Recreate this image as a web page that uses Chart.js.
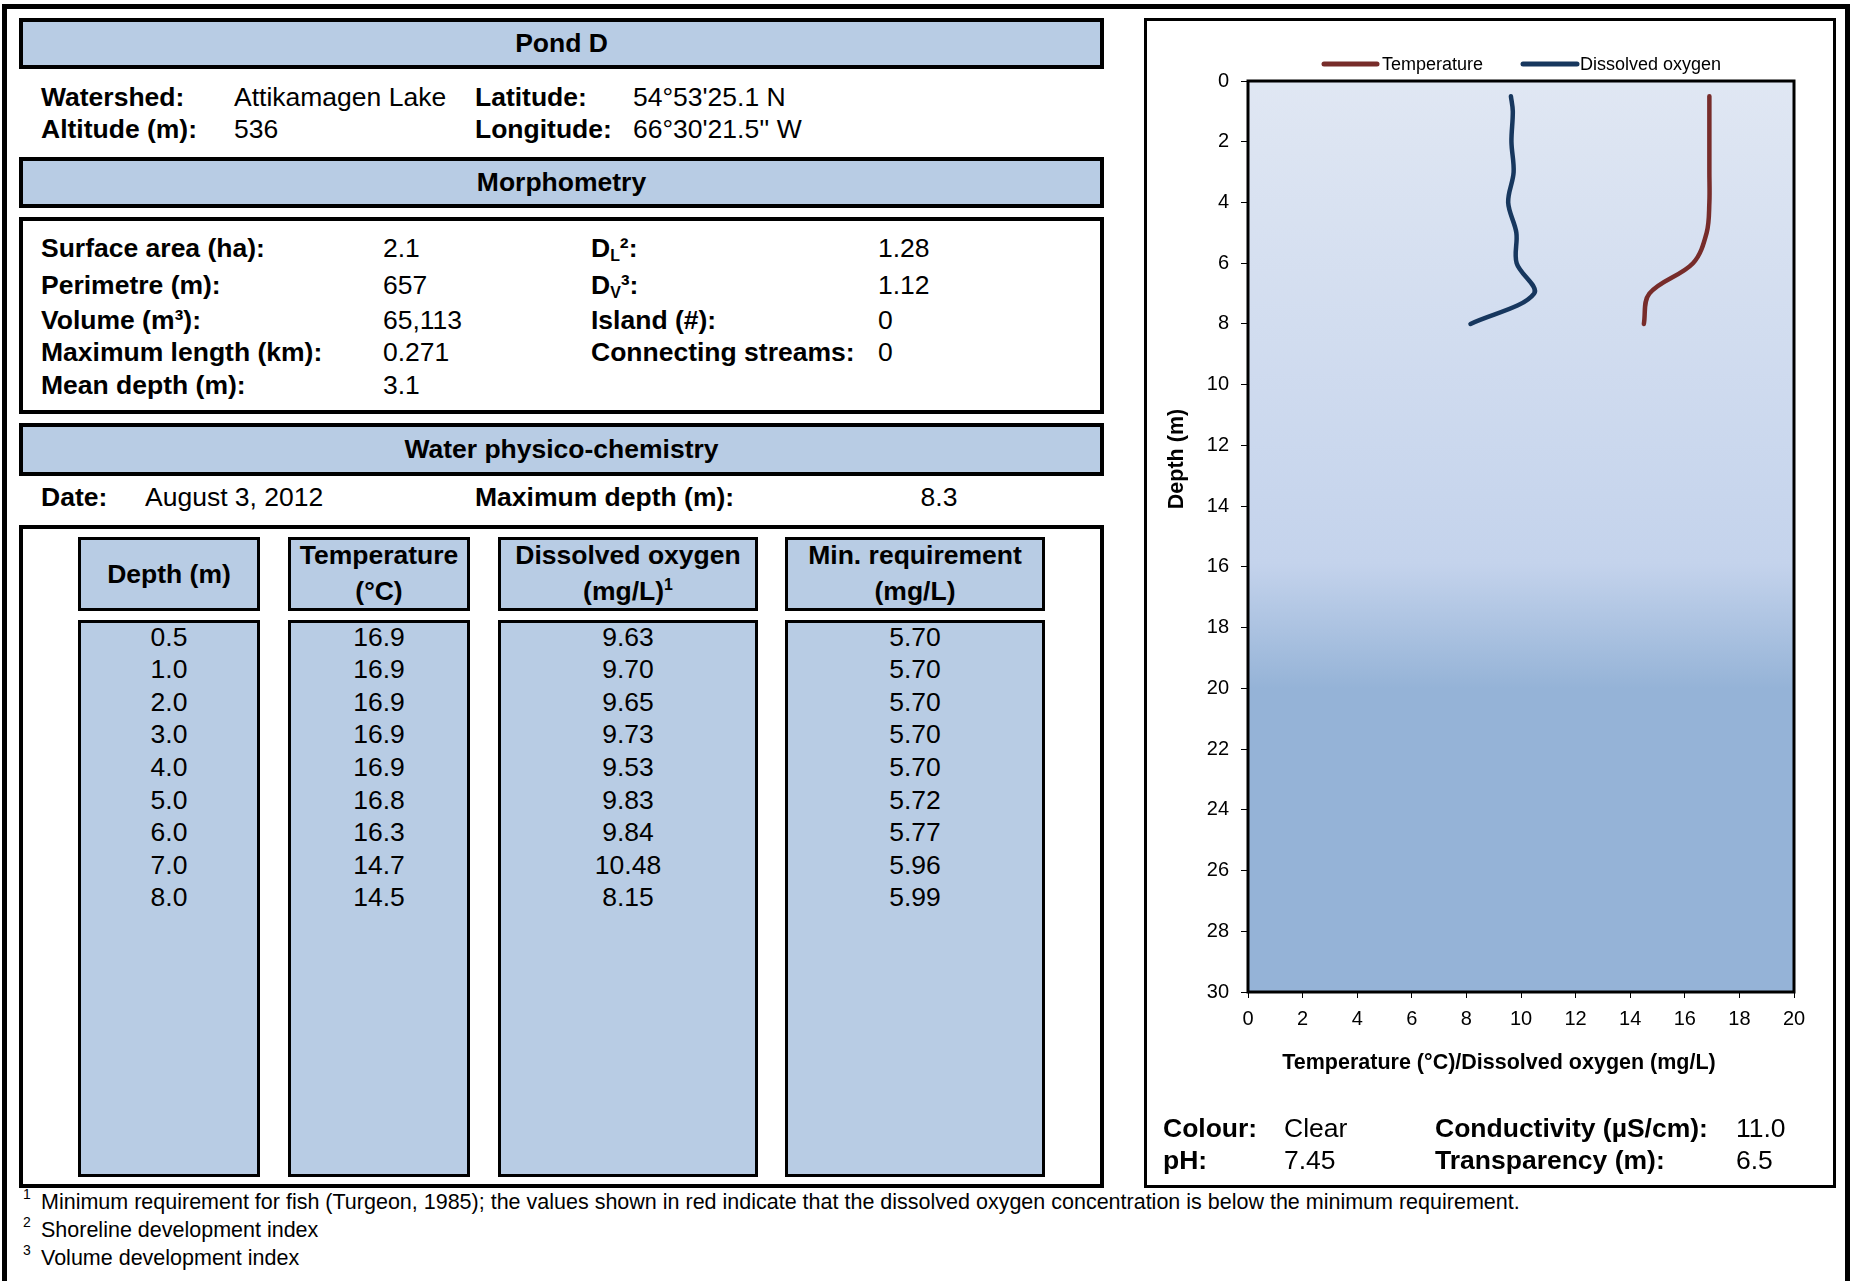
<!DOCTYPE html>
<html>
<head>
<meta charset="utf-8">
<title>Pond D</title>
<script src="https://cdn.jsdelivr.net/npm/chart.js@4.4.1/dist/chart.umd.min.js"></script>
<style>
  html, body { margin: 0; padding: 0; background: #fff; }
  body { width: 1851px; height: 1281px; position: relative; overflow: hidden;
         font-family: "Liberation Sans", Arial, sans-serif; color: #000; }
  .abs { position: absolute; box-sizing: border-box; }
  .frame { left: 2px; top: 4px; width: 1848px; height: 1300px; border: 5px solid #000; border-bottom: none; }
  .hdr { background: #b8cce4; border: 4px solid #000; font-weight: bold; font-size: 26.5px;
         display: flex; align-items: center; justify-content: center; }
  .box { border: 4px solid #000; background: #fff; }
  .col { background: #b8cce4; border: 3px solid #000; }
  .t { position: absolute; font-size: 26.5px; white-space: nowrap; line-height: 1; transform: translateY(-50%); }
  .c { transform: translate(-50%, -50%); text-align: center; }
  .b { font-weight: bold; }
  .fn { position: absolute; font-size: 21.5px; white-space: nowrap; line-height: 1; transform: translateY(-50%); }
  .fn sup { font-size: 65%; vertical-align: 0.75em; line-height: 0; }
  .t sup { font-size: 60%; vertical-align: 0.6em; line-height: 0; }
  .t sub { font-size: 60%; vertical-align: -0.25em; line-height: 0; }
  #chartWrap { left: 1147px; top: 22px; width: 684px; height: 1160px; }
</style>
</head>
<body>
<div class="abs frame"></div>

<!-- Identification -->
<div class="abs hdr" style="left:19px;top:18px;width:1085px;height:51px;">Pond D</div>
<div class="t b" style="left:41px;top:97px;">Watershed:</div>
<div class="t" style="left:234px;top:97px;">Attikamagen Lake</div>
<div class="t b" style="left:475px;top:97px;">Latitude:</div>
<div class="t" style="left:633px;top:97px;">54°53'25.1 N</div>
<div class="t b" style="left:41px;top:129px;">Altitude (m):</div>
<div class="t" style="left:234px;top:129px;">536</div>
<div class="t b" style="left:475px;top:129px;">Longitude:</div>
<div class="t" style="left:633px;top:129px;">66°30'21.5'' W</div>

<!-- Morphometry -->
<div class="abs hdr" style="left:19px;top:157px;width:1085px;height:51px;">Morphometry</div>
<div class="abs box" style="left:19px;top:217px;width:1085px;height:197px;"></div>
<div id="morph"></div>

<!-- Water physico-chemistry -->
<div class="abs hdr" style="left:19px;top:423px;width:1085px;height:53px;">Water physico-chemistry</div>
<div class="t b" style="left:41px;top:497px;">Date:</div>
<div class="t" style="left:145px;top:497px;">August 3, 2012</div>
<div class="t b" style="left:475px;top:497px;">Maximum depth (m):</div>
<div class="t c" style="left:939px;top:497px;">8.3</div>

<div class="abs box" style="left:19px;top:525px;width:1085px;height:663px;"></div>
<div id="table"></div>

<!-- Footnotes -->
<div class="fn" style="left:23px;top:1203px;"><sup>1</sup></div>
<div class="fn" style="left:41px;top:1203px;">Minimum requirement for fish (Turgeon, 1985); the values shown in red indicate that the dissolved oxygen concentration is below the minimum requirement.</div>
<div class="fn" style="left:23px;top:1231px;"><sup>2</sup></div>
<div class="fn" style="left:41px;top:1231px;">Shoreline development index</div>
<div class="fn" style="left:23px;top:1259px;"><sup>3</sup></div>
<div class="fn" style="left:41px;top:1259px;">Volume development index</div>

<!-- Profile panel -->
<div class="abs box" style="left:1144px;top:18px;width:692px;height:1170px;border-width:3px;"></div>
<div class="abs" id="chartWrap"><canvas id="profile" width="684" height="1160"></canvas></div>
<div class="t b" style="left:1163px;top:1128px;">Colour:</div>
<div class="t" style="left:1284px;top:1128px;">Clear</div>
<div class="t b" style="left:1435px;top:1128px;">Conductivity (µS/cm):</div>
<div class="t" style="left:1736px;top:1128px;">11.0</div>
<div class="t b" style="left:1163px;top:1160px;">pH:</div>
<div class="t" style="left:1284px;top:1160px;">7.45</div>
<div class="t b" style="left:1435px;top:1160px;">Transparency (m):</div>
<div class="t" style="left:1736px;top:1160px;">6.5</div>

<script>
// Field measurements, August 3, 2012
const depths = [0.5, 1.0, 2.0, 3.0, 4.0, 5.0, 6.0, 7.0, 8.0];
const temperature = [16.9, 16.9, 16.9, 16.9, 16.9, 16.8, 16.3, 14.7, 14.5];
const oxygen = [9.63, 9.70, 9.65, 9.73, 9.53, 9.83, 9.84, 10.48, 8.15];
const minRequirement = [5.70, 5.70, 5.70, 5.70, 5.70, 5.72, 5.77, 5.96, 5.99];

// Axis ranges
const depthTicks = [0, 2, 4, 6, 8, 10, 12, 14, 16, 18, 20, 22, 24, 26, 28, 30];
const valueTicks = [0, 2, 4, 6, 8, 10, 12, 14, 16, 18, 20];

// Morphometry block
const morphLeft = [
  ['Surface area (ha):', '2.1'],
  ['Perimetre (m):', '657'],
  ['Volume (m³):', '65,113'],
  ['Maximum length (km):', '0.271'],
  ['Mean depth (m):', '3.1']
];
const morphRight = [
  ['D<sub>L</sub>²:', '1.28'],
  ['D<sub>V</sub>³:', '1.12'],
  ['Island (#):', '0'],
  ['Connecting streams:', '0']
];
const morphRows = [248, 285, 320, 352, 385];

function addText(parent, html, left, top, cls) {
  const d = document.createElement('div');
  d.className = 't ' + (cls || '');
  d.style.left = left + 'px';
  d.style.top = top + 'px';
  d.innerHTML = html;
  parent.appendChild(d);
}

const morph = document.getElementById('morph');
morphLeft.forEach((r, i) => {
  addText(morph, r[0], 41, morphRows[i], 'b');
  addText(morph, r[1], 383, morphRows[i]);
});
morphRight.forEach((r, i) => {
  addText(morph, r[0], 591, morphRows[i], 'b');
  addText(morph, r[1], 878, morphRows[i]);
});

// Depth table
const columns = [
  { x: 78, w: 182, head: ['Depth (m)'], vals: depths.map(v => v.toFixed(1)) },
  { x: 288, w: 182, head: ['Temperature', '(°C)'], vals: temperature.map(v => v.toFixed(1)) },
  { x: 498, w: 260, head: ['Dissolved oxygen', '(mg/L)<sup>1</sup>'], vals: oxygen.map(v => v.toFixed(2)) },
  { x: 785, w: 260, head: ['Min. requirement', '(mg/L)'], vals: minRequirement.map(v => v.toFixed(2)) }
];
const table = document.getElementById('table');
columns.forEach(col => {
  const h = document.createElement('div');
  h.className = 'abs col';
  h.style.cssText = `left:${col.x}px;top:537px;width:${col.w}px;height:74px;`;
  table.appendChild(h);
  const d = document.createElement('div');
  d.className = 'abs col';
  d.style.cssText = `left:${col.x}px;top:620px;width:${col.w}px;height:557px;`;
  table.appendChild(d);
  const cx = col.x + col.w / 2;
  if (col.head.length === 1) {
    addText(table, col.head[0], cx, 574, 'b c');
  } else {
    addText(table, col.head[0], cx, 555, 'b c');
    addText(table, col.head[1], cx, 591, 'b c');
  }
  col.vals.forEach((v, i) => addText(table, v, cx, 636.5 + i * 32.6, 'c'));
});

// Depth profile chart
Chart.defaults.font.family = '"Liberation Sans", Arial, sans-serif';
Chart.defaults.color = '#000';

const seriesColors = { temperature: '#772c2a', oxygen: '#17375e' };

const plotDecor = {
  id: 'plotDecor',
  beforeDatasetsDraw(chart) {
    const { ctx, chartArea: a } = chart;
    const g = ctx.createLinearGradient(0, a.top, 0, a.bottom);
    g.addColorStop(0, '#e0e7f3');
    g.addColorStop(0.53, '#c4d3ec');
    g.addColorStop(0.667, '#95b3d7');
    g.addColorStop(1, '#95b3d7');
    ctx.save();
    ctx.fillStyle = g;
    ctx.fillRect(a.left, a.top, a.width, a.height);
    ctx.restore();
  },
  afterDatasetsDraw(chart) {
    const { ctx, chartArea: a } = chart;
    ctx.save();
    ctx.strokeStyle = '#000';
    ctx.lineWidth = 3;
    ctx.strokeRect(a.left, a.top, a.width, a.height);
    ctx.restore();
  },
  afterDraw(chart) {
    const { ctx } = chart;
    ctx.save();
    // legend
    const items = [
      { label: 'Temperature', color: seriesColors.temperature, x0: 177, x1: 230, tx: 235 },
      { label: 'Dissolved oxygen', color: seriesColors.oxygen, x0: 376, x1: 430, tx: 433 }
    ];
    const ly = 42;
    ctx.font = '18px "Liberation Sans", Arial, sans-serif';
    ctx.textBaseline = 'middle';
    ctx.textAlign = 'left';
    items.forEach(it => {
      ctx.strokeStyle = it.color;
      ctx.lineWidth = 5;
      ctx.lineCap = 'round';
      ctx.beginPath();
      ctx.moveTo(it.x0, ly);
      ctx.lineTo(it.x1, ly);
      ctx.stroke();
      ctx.fillStyle = '#000';
      ctx.fillText(it.label, it.tx, ly + 1);
    });
    // axis titles
    ctx.font = 'bold 21.5px "Liberation Sans", Arial, sans-serif';
    ctx.textAlign = 'center';
    ctx.fillText('Temperature (°C)/Dissolved oxygen (mg/L)', 352, 1041);
    ctx.translate(30, 437);
    ctx.rotate(-Math.PI / 2);
    ctx.fillText('Depth (m)', 0, 0);
    ctx.restore();
  }
};

const lineStyle = {
  showLine: true,
  fill: false,
  borderWidth: 4.5,
  borderCapStyle: 'round',
  borderJoinStyle: 'round',
  pointRadius: 0,
  pointHoverRadius: 0,
  tension: 0.35
};

new Chart(document.getElementById('profile'), {
  type: 'scatter',
  data: {
    datasets: [
      Object.assign({
        label: 'Temperature',
        data: depths.map((d, i) => ({ x: temperature[i], y: d })),
        borderColor: seriesColors.temperature,
        backgroundColor: seriesColors.temperature
      }, lineStyle),
      Object.assign({
        label: 'Dissolved oxygen',
        data: depths.map((d, i) => ({ x: oxygen[i], y: d })),
        borderColor: seriesColors.oxygen,
        backgroundColor: seriesColors.oxygen
      }, lineStyle)
    ]
  },
  options: {
    responsive: false,
    animation: false,
    layout: { padding: { top: 59, right: 37, left: 0, bottom: 0 } },
    plugins: { legend: { display: false }, tooltip: { enabled: false } },
    scales: {
      x: {
        type: 'linear',
        position: 'bottom',
        min: valueTicks[0],
        max: valueTicks[valueTicks.length - 1],
        afterBuildTicks: s => { s.ticks = valueTicks.map(v => ({ value: v })); },
        afterFit: s => { s.height = 190; },
        grid: { display: true, drawOnChartArea: false, drawTicks: true, tickLength: 6, color: '#000', lineWidth: 1 },
        border: { display: true, color: '#000', width: 2 },
        ticks: { font: { size: 20 }, padding: 9, maxRotation: 0 }
      },
      y: {
        type: 'linear',
        position: 'left',
        reverse: true,
        min: depthTicks[0],
        max: depthTicks[depthTicks.length - 1],
        afterBuildTicks: s => { s.ticks = depthTicks.map(v => ({ value: v })); },
        afterFit: s => { s.width = 101; },
        grid: { display: true, drawOnChartArea: false, drawTicks: true, tickLength: 7, color: '#000', lineWidth: 1 },
        border: { display: true, color: '#000', width: 2 },
        ticks: { font: { size: 20 }, padding: 12 }
      }
    }
  },
  plugins: [plotDecor]
});
</script>
</body>
</html>
